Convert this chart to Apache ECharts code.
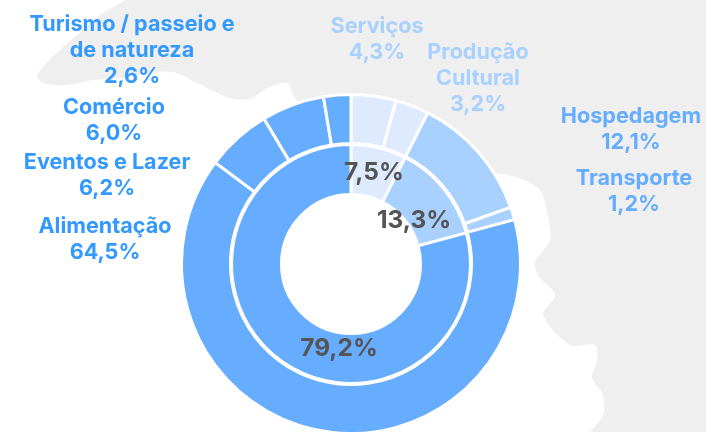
<!DOCTYPE html>
<html><head><meta charset="utf-8">
<style>html,body{margin:0;padding:0;background:#fff}#c{width:706px;height:432px}</style>
<script src="https://cdn.jsdelivr.net/npm/echarts@6/dist/echarts.min.js"></script>
</head><body><div id="c"></div>
<script>
const outerNames = ['Serviços','Produção\nCultural','Hospedagem','Transporte','Alimentação','Eventos e Lazer','Comércio','Turismo / passeio e\nde natureza'];
const outerValues = [4.3,3.2,12.1,1.2,64.5,6.2,6.0,2.6];
const outerFill = ['#DEEBFF','#DEEBFF','#A8D1FF','#A8D1FF','#66ADFF','#66ADFF','#66ADFF','#66ADFF'];
const outerText = ['#A8D1FF','#A8D1FF','#66ADFF','#66ADFF','#3399FF','#3399FF','#3399FF','#3399FF'];
const outerLabelPos = [[377,38],[478,77],[631,128],[634,190],[105,238],[107,174],[114,119],[132,49]];
const innerValues = [7.5,13.3,79.2];
const innerFill = ['#DEEBFF','#A8D1FF','#66ADFF'];
const innerLabelPos = [[374,172],[414,220],[339,348]];
const mapOutline = [[138,-12],[125,0],[97,17],[83,30],[60,50],[37,75],[43,83],[67,85],[93,80],[123,78],[150,73],[173,72],[197,83],[230,98],[250,99],[267,88],[287,83],[295,98],[351,170],[496,173],[538,188],[548,216],[550,240],[535,262],[538,275],[555,295],[543,315],[570,345],[595,345],[597,360],[592,378],[603,395],[603,415],[590,432],[575,448],[760,448],[760,-12]];
const fmt = v => v.toFixed(1).replace('.',',') + '%';
const font = 'Inter';
const chart = echarts.init(document.getElementById('c'), null, {renderer:'canvas'});
chart.setOption({
  animation:false,
  graphic:[{type:'polygon',z:-1,silent:true,shape:{points:mapOutline,smooth:0.3},style:{fill:'#EFEFEF'}}],
  series:[
    {type:'pie',center:[351,264],radius:[120.5,169.5],startAngle:90,clockwise:true,silent:true,
     itemStyle:{borderColor:'#fff',borderWidth:3},
     labelLine:{show:false},
     data:outerValues.map((v,i)=>({name:outerNames[i],value:v,itemStyle:{color:outerFill[i]},
       label:{show:true,overflow:'none',color:outerText[i],fontFamily:font,fontWeight:700,fontSize:21.6,lineHeight:26,align:'center',verticalAlign:'middle',
         formatter:outerNames[i]+'\n'+fmt(v)}})),
     labelLayout:p=>({x:outerLabelPos[p.dataIndex][0],y:outerLabelPos[p.dataIndex][1]+1,align:'center',verticalAlign:'middle',hideOverlap:false})},
    {type:'pie',center:[351,264],radius:[69.5,119.5],startAngle:90,clockwise:true,silent:true,
     itemStyle:{borderColor:'#fff',borderWidth:3},
     labelLine:{show:false},
     data:innerValues.map((v,i)=>({name:fmt(v),value:v,itemStyle:{color:innerFill[i]},
       label:{show:true,overflow:'none',color:'#555555',fontFamily:font,fontWeight:700,fontSize:24.5,align:'center',verticalAlign:'middle',formatter:fmt(v)}})),
     labelLayout:p=>({x:innerLabelPos[p.dataIndex][0],y:innerLabelPos[p.dataIndex][1]+1,align:'center',verticalAlign:'middle',hideOverlap:false})}
  ]
});
</script></body></html>
